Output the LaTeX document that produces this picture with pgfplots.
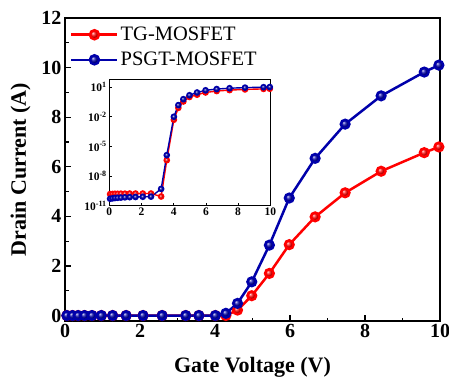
\documentclass[border=0pt]{standalone}
\usepackage{pgfplots}
\pgfplotsset{compat=1.18}
\usepackage{fontspec}
\setmainfont{Liberation Serif}
\definecolor{myred}{RGB}{255,0,0}
\definecolor{myblue}{RGB}{0,0,170}
\pgfplotsset{
  mylegimg/.style={legend image code/.code={
    \draw[##1, line width=2.5pt, mark=none] (0pt,0pt) -- (46pt,0pt);
    \path[##1] plot[mark=ball, mark size=4.5pt] coordinates {(23pt,0pt)};
  }},
}
\begin{document}
\begin{tikzpicture}
\useasboundingbox (-65pt,-60pt) rectangle (384pt,321pt);
\begin{axis}[
  at={(0,0)}, anchor=south west,
  scale only axis, width=375pt, height=303pt,
  xmin=0, xmax=10, ymin=-0.22, ymax=12,
  xtick={0,2,...,10}, ytick={0,2,...,12},
  minor xtick={1,3,...,9}, minor ytick={1,3,...,11},
  tick pos=left, tick align=inside,
  major tick length=6pt, minor tick length=3.5pt,
  every tick/.style={line width=1.2pt, black},
  axis line style={line width=1.6pt},
  /pgf/number format/assume math mode=true,
  ticklabel style={font=\fontsize{20}{23}\selectfont\bfseries},
  xlabel={Gate Voltage (V)}, ylabel={Drain Current (A)},
  label style={font=\fontsize{22}{26}\selectfont\bfseries},
  xlabel style={yshift=-12pt},
  ylabel style={yshift=4pt},
  legend style={at={(0,1)}, anchor=north west, draw=none, fill=none,
    inner xsep=5pt, inner ysep=7pt,
    font=\fontsize{20.5}{24}\selectfont, row sep=6pt},
  legend cell align=left,
]
\addplot[myred, line width=2.5pt, mark=ball, mark size=4.3pt, mark options={ball color=myred}, mylegimg] table {
x y
0.05 0
0.2 0
0.35 0
0.52 0
0.72 0
0.97 0
1.27 0
1.63 0
2.08 0
2.59 0
3.22 0
3.57 0
4.01 0
4.29 0.0
4.6 0.22
4.98 0.8
5.45 1.7
5.98 2.86
6.67 3.98
7.47 4.95
8.43 5.82
9.58 6.57
9.97 6.8
};
\addlegendentry{TG-MOSFET}
\addplot[myblue, line width=2.5pt, mark=ball, mark size=4.3pt, mark options={ball color=myblue}, mylegimg] table {
x y
0.05 0
0.2 0
0.35 0
0.52 0
0.72 0
0.97 0
1.27 0
1.63 0
2.08 0
2.59 0
3.22 0
3.57 0
4.01 0
4.29 0.09
4.6 0.49
4.98 1.36
5.45 2.84
5.98 4.74
6.67 6.34
7.47 7.72
8.43 8.86
9.58 9.82
9.97 10.1
};
\addlegendentry{PSGT-MOSFET}
\end{axis}
\begin{axis}[
  at={(44.3pt,115.3pt)}, anchor=south west,
  scale only axis, width=161pt, height=126pt,
  ymode=log,
  xmin=0, xmax=10, ymin=1e-11, ymax=56,
  xtick={0,2,...,10},
  ytick={1e-11,1e-8,1e-5,1e-2,1e1},
  yticklabels={10\textsuperscript{-11},10\textsuperscript{-8},10\textsuperscript{-5},10\textsuperscript{-2},10\textsuperscript{1}},
  minor ytick={}, 
  tick align=inside, tick pos=left,
  major tick length=3pt,
  every tick/.style={line width=0.8pt, black},
  axis line style={line width=1pt},
  axis background/.style={fill=white},
  /pgf/number format/assume math mode=true,
  ticklabel style={font=\fontsize{11.5}{13}\selectfont\bfseries},
  xticklabel style={yshift=1pt},
  yticklabel style={xshift=1pt},
]
\addplot[myred, line width=1.4pt, mark=ball, mark size=2.6pt, mark options={ball color=myred}] table {
x y
0.05 1.5e-10
0.2 1.55e-10
0.35 1.6e-10
0.52 1.6e-10
0.72 1.65e-10
0.97 1.65e-10
1.27 1.7e-10
1.63 1.7e-10
2.08 1.7e-10
2.59 1.7e-10
3.22 8.5e-11
3.57 4e-7
4.01 5e-3
4.29 0.08
4.6 0.35
4.98 1.0
5.45 1.7
5.98 2.86
6.67 3.98
7.47 4.95
8.43 5.82
9.58 6.57
9.97 6.8
};
\addplot[myblue, line width=1.4pt, mark=ball, mark size=2.6pt, mark options={ball color=myblue}] table {
x y
0.05 5e-11
0.2 5.5e-11
0.35 6e-11
0.52 6.3e-11
0.72 6.6e-11
0.97 7e-11
1.27 7.3e-11
1.63 7.6e-11
2.08 8e-11
2.59 8.3e-11
3.22 5e-10
3.57 1.3e-6
4.01 1e-2
4.29 0.15
4.6 0.6
4.98 1.5
5.45 2.84
5.98 4.74
6.67 6.34
7.47 7.72
8.43 8.86
9.58 9.82
9.97 10.1
};
\end{axis}
\end{tikzpicture}
\end{document}
